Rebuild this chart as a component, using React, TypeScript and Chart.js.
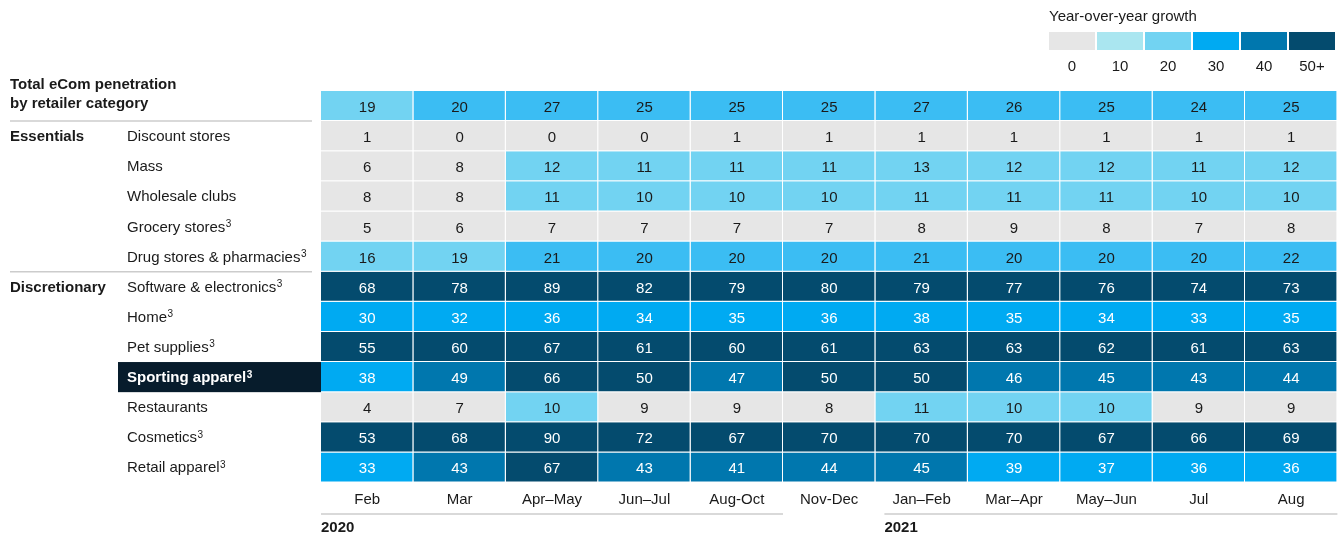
import React, { useEffect, useRef } from 'react';
import { Chart, registerables } from 'chart.js';

Chart.register(...registerables);

const FONT = '"Liberation Sans", Arial, sans-serif';

// ---- Data ----
const periods = ['Feb', 'Mar', 'Apr–May', 'Jun–Jul', 'Aug-Oct', 'Nov-Dec', 'Jan–Feb', 'Mar–Apr', 'May–Jun', 'Jul', 'Aug'];
const years = ['2020', '2021'];
const yearStartCols = [0, 6];
const yearEndCols = [5, 11];

const headerLines = ['Total eCom penetration', 'by retailer category'];
const groupNames = ['Essentials', 'Discretionary'];
const groupSizes = [5, 7];

const rowLabels = [
  'Discount stores',
  'Mass',
  'Wholesale clubs',
  'Grocery stores',
  'Drug stores & pharmacies',
  'Software & electronics',
  'Home',
  'Pet supplies',
  'Sporting apparel',
  'Restaurants',
  'Cosmetics',
  'Retail apparel',
];
const rowFootnotes = ['', '', '', '3', '3', '3', '3', '3', '3', '', '3', '3'];
const highlightedRow = 'Sporting apparel';

const total = [19, 20, 27, 25, 25, 25, 27, 26, 25, 24, 25];
const discountStores = [1, 0, 0, 0, 1, 1, 1, 1, 1, 1, 1];
const mass = [6, 8, 12, 11, 11, 11, 13, 12, 12, 11, 12];
const wholesaleClubs = [8, 8, 11, 10, 10, 10, 11, 11, 11, 10, 10];
const groceryStores = [5, 6, 7, 7, 7, 7, 8, 9, 8, 7, 8];
const drugStores = [16, 19, 21, 20, 20, 20, 21, 20, 20, 20, 22];
const softwareElectronics = [68, 78, 89, 82, 79, 80, 79, 77, 76, 74, 73];
const home = [30, 32, 36, 34, 35, 36, 38, 35, 34, 33, 35];
const petSupplies = [55, 60, 67, 61, 60, 61, 63, 63, 62, 61, 63];
const sportingApparel = [38, 49, 66, 50, 47, 50, 50, 46, 45, 43, 44];
const restaurants = [4, 7, 10, 9, 9, 8, 11, 10, 10, 9, 9];
const cosmetics = [53, 68, 90, 72, 67, 70, 70, 70, 67, 66, 69];
const retailApparel = [33, 43, 67, 43, 41, 44, 45, 39, 37, 36, 36];

const rowValues = [
  total,
  discountStores,
  mass,
  wholesaleClubs,
  groceryStores,
  drugStores,
  softwareElectronics,
  home,
  petSupplies,
  sportingApparel,
  restaurants,
  cosmetics,
  retailApparel,
];

const legendTitle = 'Year-over-year growth';
const legendTicks = ['0', '10', '20', '30', '40', '50+'];

// ---- Styles ----
const cellColors = ['#e6e6e6', '#72d3f2', '#3bbdf3', '#00aaf2', '#0077ae', '#044b6e'];
const legendColors = ['#e6e6e6', '#aae6f0', '#72d3f2', '#00aaf2', '#0077ae', '#044b6e'];
const TEXT = '#1a1a1a';

const binOf = (v: number) => Math.min(5, Math.floor(v / 10));

const rowKeys = ['__total__', ...rowLabels];

const tablePlugin = {
  id: 'tableText',
  afterDatasetsDraw(chart: any) {
    const ctx = chart.ctx;
    ctx.save();
    ctx.font = `15px ${FONT}`;
    ctx.textAlign = 'center';
    ctx.textBaseline = 'alphabetic';
    chart.data.datasets.forEach((ds: any, j: number) => {
      const meta = chart.getDatasetMeta(j);
      meta.data.forEach((el: any, i: number) => {
        const v = ds.data[i].v;
        const c = el.getCenterPoint();
        ctx.fillStyle = v >= 30 ? '#ffffff' : TEXT;
        ctx.fillText(String(v), c.x, c.y + 6);
      });
    });
    ctx.restore();
  },
  afterDraw(chart: any) {
    const ctx = chart.ctx;
    const xs = chart.scales.x;
    const ys = chart.scales.y;
    const area = chart.chartArea;
    const rowH = ys.getPixelForValue(1) - ys.getPixelForValue(0);
    ctx.save();
    ctx.textBaseline = 'alphabetic';

    // Header
    const cy0 = ys.getPixelForValue(0);
    ctx.fillStyle = TEXT;
    ctx.textAlign = 'left';
    ctx.font = `bold 15px ${FONT}`;
    ctx.fillText(headerLines[0], 10, cy0 - 17);
    ctx.fillText(headerLines[1], 10, cy0 + 2);

    // Group labels and separators
    let start = 1;
    groupNames.forEach((g, gi) => {
      const top = ys.getPixelForValue(start) - rowH / 2;
      ctx.strokeStyle = '#cccccc';
      ctx.lineWidth = 1.5;
      ctx.beginPath();
      ctx.moveTo(10, top);
      ctx.lineTo(312, top);
      ctx.stroke();
      ctx.fillStyle = TEXT;
      ctx.font = `bold 15px ${FONT}`;
      ctx.textAlign = 'left';
      ctx.fillText(g, 10, ys.getPixelForValue(start) + 5);
      start += groupSizes[gi];
    });

    // Row labels
    rowLabels.forEach((lab, k) => {
      const cy = ys.getPixelForValue(k + 1);
      const hl = lab === highlightedRow;
      if (hl) {
        ctx.fillStyle = '#071c2c';
        ctx.fillRect(118, cy - rowH / 2, area.left - 118, rowH);
      }
      const weight = hl ? 'bold ' : '';
      ctx.font = `${weight}15px ${FONT}`;
      ctx.fillStyle = hl ? '#ffffff' : TEXT;
      ctx.textAlign = 'left';
      ctx.fillText(lab, 127, cy + 5);
      if (rowFootnotes[k]) {
        const w = ctx.measureText(lab).width;
        ctx.font = `${weight}10px ${FONT}`;
        ctx.fillText(rowFootnotes[k], 127 + w + 0.5, cy + 0.5);
      }
    });

    // Period labels
    ctx.font = `15px ${FONT}`;
    ctx.fillStyle = TEXT;
    ctx.textAlign = 'center';
    periods.forEach((p, j) => {
      ctx.fillText(p, xs.getPixelForValue(j + 0.5), area.bottom + 21);
    });

    // Years
    const yearOffsets = [0, 9];
    years.forEach((yr, k) => {
      const x0 = xs.getPixelForValue(yearStartCols[k]) + yearOffsets[k];
      const x1 = xs.getPixelForValue(yearEndCols[k]);
      ctx.strokeStyle = '#d9d9d9';
      ctx.lineWidth = 2;
      ctx.beginPath();
      ctx.moveTo(x0, area.bottom + 31.5);
      ctx.lineTo(x1, area.bottom + 31.5);
      ctx.stroke();
      ctx.fillStyle = TEXT;
      ctx.font = `bold 15px ${FONT}`;
      ctx.textAlign = 'left';
      ctx.fillText(yr, x0, area.bottom + 49);
    });

    // Legend
    ctx.fillStyle = TEXT;
    ctx.font = `15px ${FONT}`;
    ctx.textAlign = 'left';
    ctx.fillText(legendTitle, 1049, 21);
    legendTicks.forEach((t, k) => {
      const x = 1049 + k * 48;
      ctx.fillStyle = legendColors[k];
      ctx.fillRect(x, 32, 46, 18);
      ctx.fillStyle = TEXT;
      ctx.textAlign = 'center';
      ctx.fillText(t, x + 23, 71);
    });

    ctx.restore();
  },
};

export default function App() {
  const ref = useRef<HTMLCanvasElement | null>(null);

  useEffect(() => {
    if (!ref.current) return;
    const datasets = periods.map((p, j) => ({
      label: p,
      data: rowValues.map((vals, i) => ({ y: rowKeys[i], x: [j, j + 1], v: vals[j] })),
      backgroundColor: rowValues.map((vals) => cellColors[binOf(vals[j])]),
      borderColor: 'rgba(255,255,255,0.8)',
      borderWidth: { top: 0, left: 0, right: 1, bottom: 1 },
      borderSkipped: false,
      inflateAmount: 0,
      barPercentage: 1,
      categoryPercentage: 1,
      grouped: false,
    }));

    const chart = new Chart(ref.current, {
      type: 'bar',
      data: { labels: rowKeys, datasets: datasets as any },
      options: {
        indexAxis: 'y',
        animation: false,
        responsive: false,
        maintainAspectRatio: false,
        events: [],
        layout: { padding: { left: 321, right: 6.6, top: 91, bottom: 55.5 } },
        plugins: { legend: { display: false }, tooltip: { enabled: false } },
        scales: {
          x: { type: 'linear', min: 0, max: periods.length, display: false },
          y: { type: 'category', labels: rowKeys, display: false, offset: true },
        },
      },
      plugins: [tablePlugin],
    });
    return () => chart.destroy();
  }, []);

  return (
    <div style={{ position: 'absolute', left: 0, top: 0, width: 1344, height: 538, background: '#fff' }}>
      <canvas ref={ref} width={1344} height={538} style={{ width: 1344, height: 538, display: 'block' }} />
    </div>
  );
}
